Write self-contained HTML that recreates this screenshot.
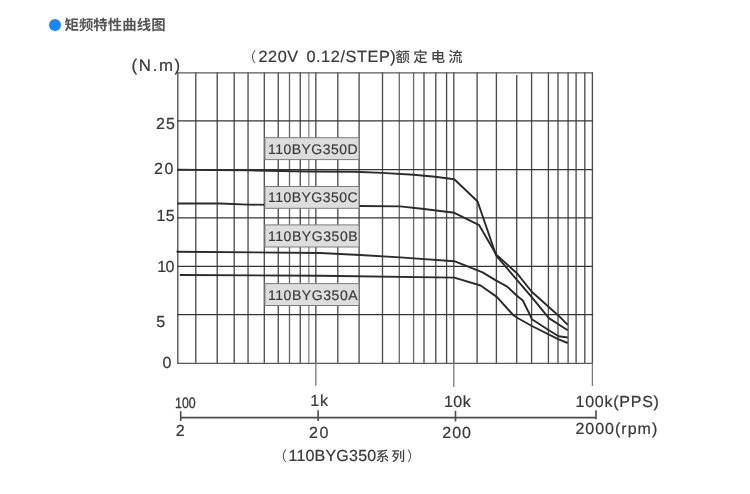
<!DOCTYPE html>
<html lang="zh-CN">
<head>
<meta charset="utf-8">
<title>矩频特性曲线图</title>
<style>
html,body{margin:0;padding:0;background:#fff;}
body{width:750px;height:494px;position:relative;overflow:hidden;font-family:"Liberation Sans","Noto Sans CJK SC",sans-serif;}
svg{position:absolute;left:0;top:0;display:block;will-change:transform;}
svg text{font-family:"Liberation Sans","Noto Sans CJK SC",sans-serif;text-rendering:geometricPrecision;}
.hd{position:absolute;left:49px;top:15px;height:22px;line-height:22px;font-size:14.4px;font-weight:bold;color:#555;white-space:nowrap;letter-spacing:0.1px;will-change:transform;text-rendering:geometricPrecision;}
.hd i{display:inline-block;width:12px;height:12px;border-radius:50%;background:#1a86ff;vertical-align:-1px;margin-right:3.4px;position:relative;top:0;}
</style>
</head>
<body>
<svg width="750" height="494" viewBox="0 0 750 494">
<rect width="750" height="494" fill="#fff"/>
<g stroke="#4e4e4e" stroke-width="1.35" fill="none">
<line x1="177.8" y1="72.2" x2="177.8" y2="363.9"/>
<line x1="195.8" y1="72.2" x2="195.8" y2="363.9"/>
<line x1="217.2" y1="72.2" x2="217.2" y2="363.9"/>
<line x1="234.2" y1="72.2" x2="234.2" y2="363.9"/>
<line x1="248.05" y1="72.2" x2="248.05" y2="363.9"/>
<line x1="264.3" y1="72.2" x2="264.3" y2="363.9"/>
<line x1="278.25" y1="72.2" x2="278.25" y2="363.9"/>
<line x1="289.5" y1="72.2" x2="289.5" y2="363.9" stroke="#6a6a6a"/>
<line x1="300.25" y1="72.2" x2="300.25" y2="363.9"/>
<line x1="308.85" y1="72.2" x2="308.85" y2="363.9" stroke="#8c8c8c"/>
<line x1="315.85" y1="72.2" x2="315.85" y2="363.9"/>
<line x1="337.8" y1="72.2" x2="337.8" y2="363.9"/>
<line x1="359.1" y1="72.2" x2="359.1" y2="363.9"/>
<line x1="382.5" y1="72.2" x2="382.5" y2="363.9"/>
<line x1="399.3" y1="72.2" x2="399.3" y2="363.9" stroke="#6e6e6e"/>
<line x1="413.6" y1="72.2" x2="413.6" y2="363.9" stroke="#6e6e6e"/>
<line x1="424" y1="72.2" x2="424" y2="363.9"/>
<line x1="435.8" y1="72.2" x2="435.8" y2="363.9"/>
<line x1="446.6" y1="72.2" x2="446.6" y2="363.9"/>
<line x1="453.8" y1="72.2" x2="453.8" y2="363.9"/>
<line x1="477.1" y1="72.2" x2="477.1" y2="363.9"/>
<line x1="496.4" y1="72.2" x2="496.4" y2="363.9"/>
<line x1="516.7" y1="75.0" x2="516.7" y2="363.9"/>
<line x1="531.6" y1="72.2" x2="531.6" y2="363.9"/>
<line x1="548.4" y1="72.2" x2="548.4" y2="363.9"/>
<line x1="558" y1="72.2" x2="558" y2="363.9"/>
<line x1="568.1" y1="72.2" x2="568.1" y2="363.9"/>
<line x1="576.1" y1="72.2" x2="576.1" y2="363.9"/>
<line x1="584.8" y1="72.2" x2="584.8" y2="363.9"/>
<line x1="592.4" y1="72.2" x2="592.4" y2="363.9"/>
<line x1="177.2" y1="72.8" x2="593.0" y2="72.8" stroke="#5a5a5a" stroke-width="1.25"/>
<line x1="177.2" y1="120.9" x2="593.0" y2="120.9" stroke="#363636" stroke-width="1.25"/>
<line x1="177.2" y1="169.7" x2="593.0" y2="169.7" stroke="#363636" stroke-width="1.25"/>
<line x1="177.2" y1="217.8" x2="593.0" y2="217.8" stroke="#363636" stroke-width="1.25"/>
<line x1="177.2" y1="266.4" x2="593.0" y2="266.4" stroke="#363636" stroke-width="1.25"/>
<line x1="177.2" y1="314.6" x2="593.0" y2="314.6" stroke="#363636" stroke-width="1.25"/>
<line x1="177.2" y1="363.3" x2="593.0" y2="363.3" stroke="#5a5a5a" stroke-width="1.25"/>
</g>
<g stroke="#7a7a7a" stroke-width="1.3">
<line x1="315.85" y1="363.3" x2="315.85" y2="385.7"/>
<line x1="453.8" y1="363.3" x2="453.8" y2="386.9"/>
<line x1="592.4" y1="363.3" x2="592.4" y2="386"/>
</g>
<g stroke="#2b2b2b" stroke-width="1.9" fill="none" stroke-linejoin="round">
<polyline points="177.2,169.7 250,170.4 310,171.5 355,171.8 381.7,172.9 413.7,174.7 435,176.7 454.3,179.2 477.6,201.5 496.2,255.6 516.9,279.9 531.5,296.9 548.9,318.1 567.7,330.2"/>
<polyline points="177.2,203.5 220,203.5 248,204.6 300,205.2 360,206 400,206.4 424,209 454.3,212.8 479.2,225.2 496.2,254.6 516.9,273.2 531.5,291.5 558.6,315.7 567.7,324.8"/>
<polyline points="176.5,251.7 320,253 360,255 400,257.4 454.3,261.2 482.6,272.4 495,279.9 507.2,286.6 516.9,295.7 522.8,300.5 530.7,316.3 531.9,319.3 548.9,330.2 558.6,336.3 567.7,337.5"/>
<polyline points="179.8,275.0 320,275.7 454.3,277.6 480.6,285.5 496.8,296.9 513.2,315 516.7,317.5 531.9,326 558.6,339.4 567.7,343"/>
</g>
<rect x="264.9" y="137.7" width="94.1" height="21.9" fill="#dddddd" stroke="#7c7c7c" stroke-width="1"/>
<text x="267.9" y="153.6" font-size="14" fill="#3a3a3a" stroke="#3a3a3a" stroke-width="0.18" textLength="89.8" lengthAdjust="spacing">110BYG350D</text>
<rect x="264.9" y="186.5" width="94.1" height="21.8" fill="#dddddd" stroke="#7c7c7c" stroke-width="1"/>
<text x="267.9" y="202.4" font-size="14" fill="#3a3a3a" stroke="#3a3a3a" stroke-width="0.18" textLength="89.8" lengthAdjust="spacing">110BYG350C</text>
<rect x="264.9" y="224.9" width="94.1" height="22.1" fill="#dddddd" stroke="#7c7c7c" stroke-width="1"/>
<text x="267.9" y="240.9" font-size="14" fill="#3a3a3a" stroke="#3a3a3a" stroke-width="0.18" textLength="89.8" lengthAdjust="spacing">110BYG350B</text>
<rect x="264.9" y="283.6" width="94.1" height="21.9" fill="#dddddd" stroke="#7c7c7c" stroke-width="1"/>
<text x="267.9" y="299.6" font-size="14" fill="#3a3a3a" stroke="#3a3a3a" stroke-width="0.18" textLength="89.8" lengthAdjust="spacing">110BYG350A</text>
<text x="131.60" y="71.00" font-size="16.8" fill="#3a3a3a" textLength="48.60" lengthAdjust="spacing" stroke="#3a3a3a" stroke-width="0.22">(N.m)</text>
<text x="155.95" y="129.00" font-size="16" fill="#3a3a3a" textLength="19.03" lengthAdjust="spacing" stroke="#3a3a3a" stroke-width="0.22">25</text>
<text x="153.95" y="174.00" font-size="16" fill="#3a3a3a" textLength="19.51" lengthAdjust="spacing" stroke="#3a3a3a" stroke-width="0.22">20</text>
<text x="156.38" y="221.00" font-size="16" fill="#3a3a3a" textLength="18.18" lengthAdjust="spacing" stroke="#3a3a3a" stroke-width="0.22">15</text>
<text x="157.14" y="272.00" font-size="16" fill="#3a3a3a" textLength="17.16" lengthAdjust="spacing" stroke="#3a3a3a" stroke-width="0.22">10</text>
<text x="156.21" y="327.00" font-size="16" fill="#3a3a3a" stroke="#3a3a3a" stroke-width="0.22">5</text>
<text x="162.38" y="368.00" font-size="16" fill="#3a3a3a" stroke="#3a3a3a" stroke-width="0.22">0</text>
<text x="258.38" y="62.00" font-size="16.3" fill="#3a3a3a" textLength="39.77" lengthAdjust="spacing" stroke="#3a3a3a" stroke-width="0.22">220V</text>
<text x="306.39" y="62.00" font-size="16.3" fill="#3a3a3a" textLength="89.37" lengthAdjust="spacing" stroke="#3a3a3a" stroke-width="0.22">0.12/STEP)</text>
<text x="175.00" y="408.00" font-size="15" fill="#3a3a3a" textLength="20.68" lengthAdjust="spacingAndGlyphs" stroke="#3a3a3a" stroke-width="0.35">100</text>
<text x="310.37" y="406.00" font-size="16" fill="#3a3a3a" textLength="17.56" lengthAdjust="spacing" stroke="#3a3a3a" stroke-width="0.22">1k</text>
<text x="444.07" y="407.00" font-size="16" fill="#3a3a3a" textLength="26.56" lengthAdjust="spacing" stroke="#3a3a3a" stroke-width="0.22">10k</text>
<text x="575.50" y="407.00" font-size="16" fill="#3a3a3a" textLength="83.42" lengthAdjust="spacing" stroke="#3a3a3a" stroke-width="0.22">100k(PPS)</text>
<text x="175.76" y="436.00" font-size="16" fill="#3a3a3a" stroke="#3a3a3a" stroke-width="0.22">2</text>
<text x="308.91" y="438.00" font-size="16" fill="#3a3a3a" textLength="19.43" lengthAdjust="spacing" stroke="#3a3a3a" stroke-width="0.22">20</text>
<text x="442.15" y="438.00" font-size="16" fill="#3a3a3a" textLength="28.86" lengthAdjust="spacing" stroke="#3a3a3a" stroke-width="0.22">200</text>
<text x="575.38" y="434.00" font-size="16" fill="#3a3a3a" textLength="81.85" lengthAdjust="spacing" stroke="#3a3a3a" stroke-width="0.22">2000(rpm)</text>
<text x="288.45" y="461.00" font-size="16" fill="#3a3a3a" textLength="87.71" lengthAdjust="spacing" stroke="#3a3a3a" stroke-width="0.22">110BYG350</text>
<text x="242.20" y="62.00" font-size="14" fill="#555">（</text>
<text x="395.60" y="62.30" font-size="14.4" fill="#444" font-weight="500" letter-spacing="3.2">额定电流</text>
<text x="273.60" y="460.60" font-size="13.4" fill="#555">（</text>
<text x="375.80" y="460.60" font-size="13.6" fill="#444" font-weight="500" letter-spacing="2.1">系列</text>
<text x="407.00" y="460.60" font-size="13.4" fill="#555">）</text>
<g stroke="#4c4c4c" stroke-width="1.6">
<line x1="180.7" y1="417.6" x2="596" y2="417.6"/>
<line x1="180.7" y1="411.2" x2="180.7" y2="420.9"/>
<line x1="318.1" y1="410.3" x2="318.1" y2="420.9"/>
<line x1="455.5" y1="410.8" x2="455.5" y2="421.4"/>
<line x1="596" y1="410.3" x2="596" y2="419.3"/>
</g>
</svg>
<div class="hd"><i></i>矩频特性曲线图</div>
</body>
</html>
